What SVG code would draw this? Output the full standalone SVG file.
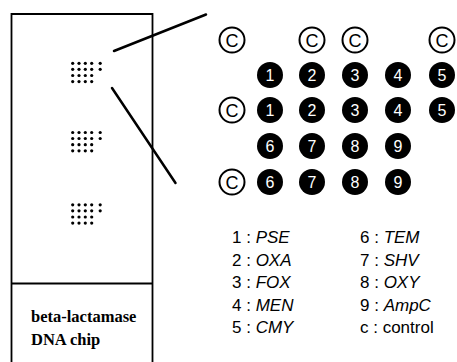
<svg xmlns="http://www.w3.org/2000/svg" width="457" height="362" viewBox="0 0 457 362">
<style>
.frame{fill:none;stroke:#000;stroke-width:1.8}
.conn{stroke:#000;stroke-width:2.5;stroke-linecap:round}
.dot{fill:#000}
.cc{fill:#fff;stroke:#000;stroke-width:2}
.ct{font-family:"Liberation Sans",Arial,sans-serif;font-size:18px;text-anchor:middle;fill:#000}
.fc{fill:#000}
.ft{font-family:"Liberation Sans",Arial,sans-serif;font-size:16px;text-anchor:middle;fill:#fff}
.lg{font-family:"Liberation Sans",Arial,sans-serif;font-size:17px;fill:#000}
.it{font-style:italic}
.chip{font-family:"Liberation Serif","Times New Roman",serif;font-size:16.5px;font-weight:bold;fill:#000}
</style>
<defs>
<g id="grid">
<circle class="dot" cx="0" cy="0" r="1.6"/><circle class="dot" cx="6.3" cy="0" r="1.6"/><circle class="dot" cx="12.6" cy="0" r="1.6"/><circle class="dot" cx="19" cy="0" r="1.6"/><circle class="dot" cx="27.5" cy="0" r="1.6"/>
<circle class="dot" cx="0" cy="6" r="1.6"/><circle class="dot" cx="6.3" cy="6" r="1.6"/><circle class="dot" cx="12.6" cy="6" r="1.6"/><circle class="dot" cx="19" cy="6" r="1.6"/><circle class="dot" cx="27.5" cy="6" r="1.6"/>
<circle class="dot" cx="0" cy="12.2" r="1.6"/><circle class="dot" cx="6.3" cy="12.2" r="1.6"/><circle class="dot" cx="12.6" cy="12.2" r="1.6"/><circle class="dot" cx="19" cy="12.2" r="1.6"/>
<circle class="dot" cx="0" cy="18.3" r="1.6"/><circle class="dot" cx="6.3" cy="18.3" r="1.6"/><circle class="dot" cx="12.6" cy="18.3" r="1.6"/><circle class="dot" cx="19" cy="18.3" r="1.6"/>
</g>
</defs>
<g id="chip">
<path class="frame" d="M11.5,362 V14 H152.5 V362 M11.5,283.5 H152.5"/>
<use href="#grid" x="72.7" y="63.3"/>
<use href="#grid" x="72.7" y="132.5"/>
<use href="#grid" x="72.7" y="204.8"/>
<text class="chip" x="31" y="322">beta-lactamase</text>
<text class="chip" x="31" y="345">DNA chip</text>
</g>
<g id="connectors">
<line class="conn" x1="114" y1="51" x2="206" y2="14.5"/>
<line class="conn" x1="112" y1="88" x2="175.5" y2="183"/>
</g>
<g id="array">
<g id="controls">
<circle class="cc" cx="232" cy="40" r="12.5"/><text class="ct" x="232" y="46.5">C</text>
<circle class="cc" cx="312" cy="40" r="12.5"/><text class="ct" x="312" y="46.5">C</text>
<circle class="cc" cx="355" cy="40" r="12.5"/><text class="ct" x="355" y="46.5">C</text>
<circle class="cc" cx="442" cy="40" r="12.5"/><text class="ct" x="442" y="46.5">C</text>
<circle class="cc" cx="232" cy="110" r="12.5"/><text class="ct" x="232" y="116.5">C</text>
<circle class="cc" cx="232" cy="182" r="12.5"/><text class="ct" x="232" y="188.5">C</text>
</g>
<g id="probes">
<circle class="fc" cx="270" cy="75" r="13"/><text class="ft" x="270" y="81">1</text>
<circle class="fc" cx="312" cy="75" r="13"/><text class="ft" x="312" y="81">2</text>
<circle class="fc" cx="355" cy="75" r="13"/><text class="ft" x="355" y="81">3</text>
<circle class="fc" cx="398" cy="75" r="13"/><text class="ft" x="398" y="81">4</text>
<circle class="fc" cx="442" cy="75" r="13"/><text class="ft" x="442" y="81">5</text>
<circle class="fc" cx="270" cy="110" r="13"/><text class="ft" x="270" y="116">1</text>
<circle class="fc" cx="312" cy="110" r="13"/><text class="ft" x="312" y="116">2</text>
<circle class="fc" cx="355" cy="110" r="13"/><text class="ft" x="355" y="116">3</text>
<circle class="fc" cx="398" cy="110" r="13"/><text class="ft" x="398" y="116">4</text>
<circle class="fc" cx="442" cy="110" r="13"/><text class="ft" x="442" y="116">5</text>
<circle class="fc" cx="270" cy="146" r="13"/><text class="ft" x="270" y="152">6</text>
<circle class="fc" cx="312" cy="146" r="13"/><text class="ft" x="312" y="152">7</text>
<circle class="fc" cx="355" cy="146" r="13"/><text class="ft" x="355" y="152">8</text>
<circle class="fc" cx="398" cy="146" r="13"/><text class="ft" x="398" y="152">9</text>
<circle class="fc" cx="270" cy="182" r="13"/><text class="ft" x="270" y="188">6</text>
<circle class="fc" cx="312" cy="182" r="13"/><text class="ft" x="312" y="188">7</text>
<circle class="fc" cx="355" cy="182" r="13"/><text class="ft" x="355" y="188">8</text>
<circle class="fc" cx="398" cy="182" r="13"/><text class="ft" x="398" y="188">9</text>
</g>
</g>
<g id="legend">
<text class="lg" x="232" y="243">1 : <tspan class="it">PSE</tspan></text>
<text class="lg" x="232" y="265.5">2 : <tspan class="it">OXA</tspan></text>
<text class="lg" x="232" y="288">3 : <tspan class="it">FOX</tspan></text>
<text class="lg" x="232" y="310.5">4 : <tspan class="it">MEN</tspan></text>
<text class="lg" x="232" y="333">5 : <tspan class="it">CMY</tspan></text>
<text class="lg" x="360" y="243">6 : <tspan class="it">TEM</tspan></text>
<text class="lg" x="360" y="265.5">7 : <tspan class="it">SHV</tspan></text>
<text class="lg" x="360" y="288">8 : <tspan class="it">OXY</tspan></text>
<text class="lg" x="360" y="310.5">9 : <tspan class="it">AmpC</tspan></text>
<text class="lg" x="360" y="333">c : control</text>
</g>
</svg>
